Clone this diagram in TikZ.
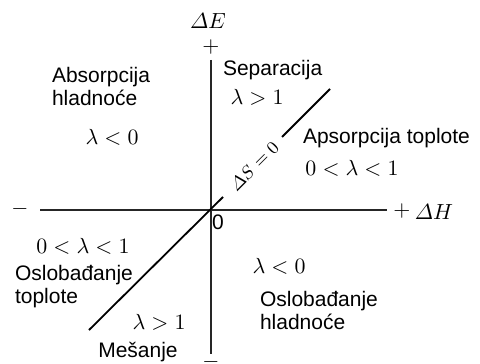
\documentclass[tikz,border=0pt]{standalone}
\usepackage{amsmath}
\usepackage[no-math]{fontspec}
\setmainfont{Liberation Sans}
\begin{document}
\begin{tikzpicture}[x=0.5pt,y=-0.5pt,
  every node/.style={inner sep=0pt,outer sep=0pt},
  lbl/.style={font=\fontsize{10.5}{11.5}\selectfont,align=left,anchor=west},
  mth/.style={font=\fontsize{10.5}{11.5}\selectfont},
  axis/.style={line width=1pt,black!85},
  diag/.style={line width=0.9pt,black}]
\useasboundingbox (0,0) rectangle (480,363);
% axes
\coordinate (top) at (211,60);
\coordinate (bot) at (211,354);
\coordinate (left) at (40,210);
\coordinate (right) at (387,210);
\draw[axis] (top) -- (bot);
\draw[axis] (left) -- (right);
% diagonal Delta S = 0
\coordinate (dl) at (89,330);
\coordinate (d1) at (223,197);
\coordinate (d2) at (282,137);
\coordinate (du) at (330,89);
\draw[diag] (dl) -- (d1);
\draw[diag] (d2) -- (du);
\node[font=\fontsize{9}{10}\selectfont,rotate=45] (ds) at (254,166) {$\varDelta S=0$};
% axis labels
\node[mth] (dE) at (208,21) {$\varDelta E$};
\node[mth] (ptop) at (211,47) {$+$};
\node[mth] (mbot) at (211,362) {$-$};
\node[mth] (mleft) at (20,209) {$-$};
\node[mth] (pright) at (402,211) {$+$};
\node[mth] (dH) at (434,212) {$\varDelta H$};
\node[lbl,anchor=center] (zero) at (218,222) {0};
% quadrant texts
\node[lbl] (absh) at (52,86) {Absorpcija\\hladnoće};
\node[mth] (l1) at (112,137) {$\lambda<0$};
\node[lbl] (sep) at (223,70) {Separacija};
\node[mth] (l2) at (257,97) {$\lambda>1$};
\node[lbl] (apst) at (303,138) {Apsorpcija toplote};
\node[mth] (l3) at (352,168) {$0<\lambda<1$};
\node[mth] (l4) at (83,246) {$0<\lambda<1$};
\node[lbl] (oslt) at (15,287) {Oslobađanje\\toplote};
\node[mth] (l5) at (159,322) {$\lambda>1$};
\node[lbl,anchor=center] (mes) at (138,352) {Mešanje};
\node[mth] (l6) at (279,266) {$\lambda<0$};
\node[lbl] (oslh) at (260,310) {Oslobađanje\\hladnoće};
\end{tikzpicture}
\end{document}
